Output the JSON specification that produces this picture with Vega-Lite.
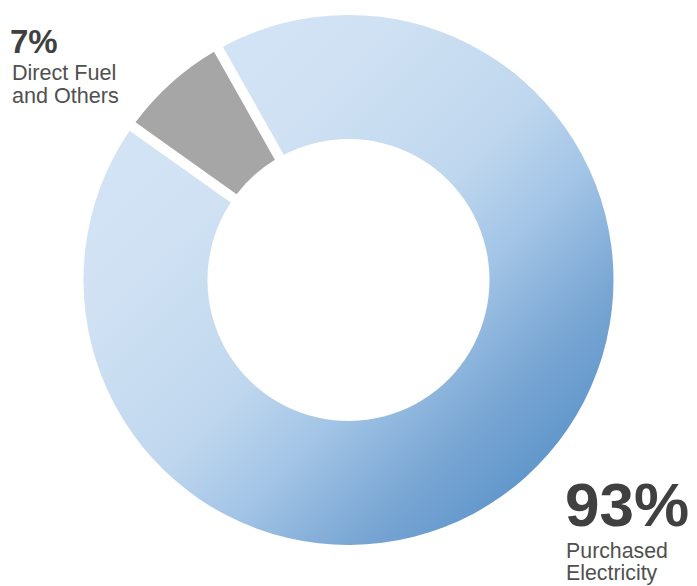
{
  "$schema": "https://vega.github.io/schema/vega-lite/v6.json",
  "width": 697,
  "height": 560,
  "autosize": {"type": "none"},
  "padding": {"left": 0, "top": 0, "right": 0, "bottom": 26},
  "background": "white",
  "config": {"view": {"stroke": null}},
  "data": {
    "values": [
      {"cat": "Direct Fuel and Others", "ord": 1, "share": 7, "pct": "7%", "desc": ["Direct Fuel", "and Others"]},
      {"cat": "Purchased Electricity", "ord": 2, "share": 93, "pct": "93%", "desc": ["Purchased", "Electricity"]}
    ]
  },
  "encoding": {
    "theta": {"field": "share", "type": "quantitative", "stack": true, "scale": {"range": [-0.953, 5.330]}},
    "order": {"field": "ord", "type": "quantitative"}
  },
  "layer": [
    {
      "mark": {"type": "arc", "outerRadius": 265, "innerRadius": 141, "padAngle": 0.034},
      "encoding": {
        "color": {
          "condition": {"test": "datum.ord == 1", "value": "#a6a6a6"},
          "value": {
            "gradient": "linear",
            "x1": 0, "y1": 0, "x2": 1, "y2": 1,
            "stops": [
              {"offset": 0, "color": "#d5e6f6"},
              {"offset": 0.3, "color": "#cfe1f3"},
              {"offset": 0.5, "color": "#bfd7ee"},
              {"offset": 0.62, "color": "#a2c4e6"},
              {"offset": 0.75, "color": "#7aa7d4"},
              {"offset": 0.85, "color": "#6398cc"},
              {"offset": 1, "color": "#4a82bf"}
            ]
          }
        }
      }
    },
    {
      "mark": {"type": "text", "radius": 355, "align": "left", "baseline": "alphabetic", "dx": -101, "dy": 37, "font": "Liberation Sans", "fontSize": 33, "fontWeight": "bold", "color": "#404040"},
      "encoding": {"text": {"condition": {"test": "datum.ord == 1", "field": "pct"}, "value": ""}}
    },
    {
      "mark": {"type": "text", "radius": 355, "align": "left", "baseline": "alphabetic", "dx": -99, "dy": 64, "lineHeight": 23, "font": "Liberation Sans", "fontSize": 21.6, "color": "#505050"},
      "encoding": {"text": {"condition": {"test": "datum.ord == 1", "field": "desc"}, "value": ""}}
    },
    {
      "mark": {"type": "text", "radius": 355, "align": "left", "baseline": "alphabetic", "dx": -21, "dy": -18, "font": "Liberation Sans", "fontSize": 62, "fontWeight": "bold", "color": "#404040"},
      "encoding": {"text": {"condition": {"test": "datum.ord == 2", "field": "pct"}, "value": ""}}
    },
    {
      "mark": {"type": "text", "radius": 355, "align": "left", "baseline": "alphabetic", "dx": -20, "dy": 14, "lineHeight": 22, "font": "Liberation Sans", "fontSize": 21.3, "color": "#505050"},
      "encoding": {"text": {"condition": {"test": "datum.ord == 2", "field": "desc"}, "value": ""}}
    }
  ]
}
